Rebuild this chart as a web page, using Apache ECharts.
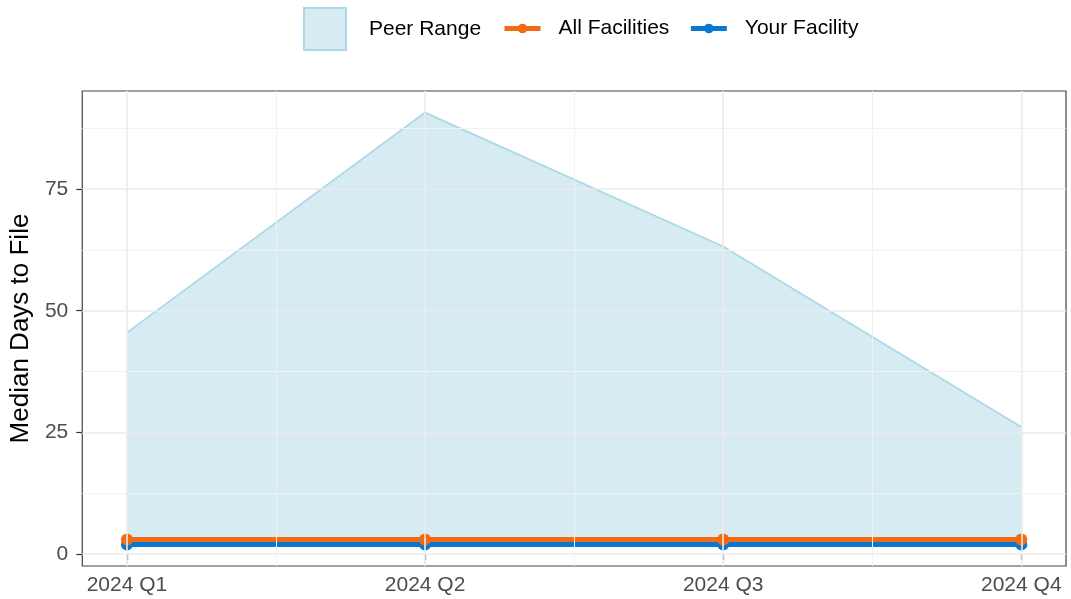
<!DOCTYPE html>
<html>
<head>
<meta charset="utf-8">
<title>Median Days to File</title>
<script src="https://cdn.jsdelivr.net/npm/echarts@6/dist/echarts.min.js"></script>
<style>
    html, body { margin: 0; padding: 0; background: #fff; }
    #main { width: 1071px; height: 599px; }
</style>
</head>
<body>
<div id="main"></div>
<script>
// data
var quarters = ['2024 Q1', '2024 Q2', '2024 Q3', '2024 Q4'];
var peerLow = [2, 2, 2, 2];
var peerHigh = [45.5, 90.7, 63.2, 26.1];
var allFacilities = [3, 3, 3, 3];
var yourFacility = [2, 2, 2, 2];
var yTicks = [0, 25, 50, 75];

;(function () {
    var font = "'Liberation Sans', Arial, sans-serif";
    var orange = '#F26A12';
    var blue = '#0A78D0';
    var bandFill = 'rgba(173,216,230,0.5)';
    var bandLine = '#add8e6';

    // x positions 1..4 on a value axis (ggplot style expansion)
    function pts(arr) {
        var out = [];
        for (var i = 0; i < arr.length; i++) {
            out.push([i + 1, arr[i]]);
        }
        return out;
    }
    var bandData = [];
    for (var i = 0; i < peerHigh.length; i++) {
        bandData.push([i + 1, peerLow[i], peerHigh[i]]);
    }

    // y range: data range expanded 5% each side
    var lo = Math.min.apply(null, peerLow.concat(yourFacility, allFacilities));
    var hi = Math.max.apply(null, peerHigh);
    var pad = (hi - lo) * 0.05;
    var yMin = lo - pad, yMax = hi + pad;

    //网格线
    var gridLines = [];
    for (var k = 0; k < yTicks.length; k++) {
        gridLines.push({yAxis: yTicks[k], lineStyle: {color: '#ebebeb', width: 1.6, type: 'solid'}});
        gridLines.push({yAxis: yTicks[k] + 12.5, lineStyle: {color: '#f2f2f2', width: 1, type: 'solid'}});
    }
    for (var q = 1; q <= quarters.length; q++) {
        gridLines.push({xAxis: q, lineStyle: {color: '#ebebeb', width: 1.6, type: 'solid'}});
        if (q < quarters.length) {
            gridLines.push({xAxis: q + 0.5, lineStyle: {color: '#f2f2f2', width: 1, type: 'solid'}});
        }
    }

    // ribbon: polygon between low and high
    function renderBand(params, api) {
        if (params.dataIndex !== 0) return;
        var upper = [], lower = [];
        for (var j = 0; j < bandData.length; j++) {
            upper.push(api.coord([bandData[j][0], bandData[j][2]]));
            lower.push(api.coord([bandData[j][0], bandData[j][1]]));
        }
        var poly = upper.concat(lower.slice().reverse());
        return {
            type: 'group',
            children: [
                {type: 'polygon', shape: {points: poly}, style: {fill: bandFill}},
                {type: 'polyline', shape: {points: upper}, style: {fill: null, stroke: bandLine, lineWidth: 1.8}},
                {type: 'polyline', shape: {points: lower}, style: {fill: null, stroke: bandLine, lineWidth: 1.8}}
            ]
        };
    }

    var chart = echarts.init(document.getElementById('main'));
    chart.setOption({
        animation: false,
        textStyle: {fontFamily: font},
        legend: [
            {
                left: 303, top: 7, padding: 0,
                itemWidth: 42, itemHeight: 42,
                selectedMode: false,
                textStyle: {fontSize: 21, color: '#000', padding: [0, 0, 0, 18]},
                data: [{
                    name: 'Peer Range', icon: 'rect',
                    itemStyle: {color: bandFill, borderColor: bandLine, borderWidth: 2}
                }]
            },
            {
                left: 502, top: 18, padding: 0,
                itemWidth: 36, itemHeight: 12, itemGap: 19,
                selectedMode: false,
                textStyle: {fontSize: 21, color: '#000', padding: [0, 0, 0, 13]},
                data: [
                    {name: 'All Facilities', lineStyle: {width: 5, color: orange}},
                    {name: 'Your Facility', lineStyle: {width: 5, color: blue}}
                ]
            }
        ],
        grid: {
            left: 82, right: 5, top: 91, bottom: 33,
            show: true, borderColor: '#444', borderWidth: 1.2, backgroundColor: '#fff'
        },
        xAxis: {
            type: 'value', min: 0.85, max: 4.15,
            axisLine: {show: false},
            splitLine: {show: false},
            axisTick: {show: true, customValues: [1, 2, 3, 4], length: 6, lineStyle: {color: '#333', width: 1.2}},
            axisLabel: {
                customValues: [1, 2, 3, 4], margin: 9,
                fontSize: 21, color: '#4d4d4d', fontFamily: font,
                formatter: function (v) { return quarters[Math.round(v) - 1] || ''; }
            }
        },
        yAxis: {
            type: 'value', min: yMin, max: yMax,
            name: 'Median Days to File', nameLocation: 'middle', nameGap: 41,
            nameTextStyle: {fontSize: 26, color: '#000', fontFamily: font},
            axisLine: {show: false},
            splitLine: {show: false},
            axisTick: {show: true, customValues: yTicks, length: 6, lineStyle: {color: '#333', width: 1.2}},
            axisLabel: {customValues: yTicks, margin: 14, fontSize: 21, color: '#4d4d4d', fontFamily: font}
        },
        series: [
            {
                name: 'grid', type: 'line', data: [], z: 1, silent: true,
                markLine: {silent: true, symbol: 'none', label: {show: false}, data: gridLines}
            },
            {
                name: 'Peer Range', type: 'custom', data: bandData, z: 2, silent: true,
                encode: {x: 0, y: [1, 2]},
                itemStyle: {color: bandFill},
                renderItem: renderBand
            },
            {
                name: 'Your Facility', type: 'line', data: pts(yourFacility), z: 3,
                symbol: 'circle', symbolSize: 12,
                lineStyle: {color: blue, width: 5},
                itemStyle: {color: blue}
            },
            {
                name: 'All Facilities', type: 'line', data: pts(allFacilities), z: 4,
                symbol: 'circle', symbolSize: 12,
                lineStyle: {color: orange, width: 5},
                itemStyle: {color: orange}
            }
        ]
    });
})();
</script>
</body>
</html>
